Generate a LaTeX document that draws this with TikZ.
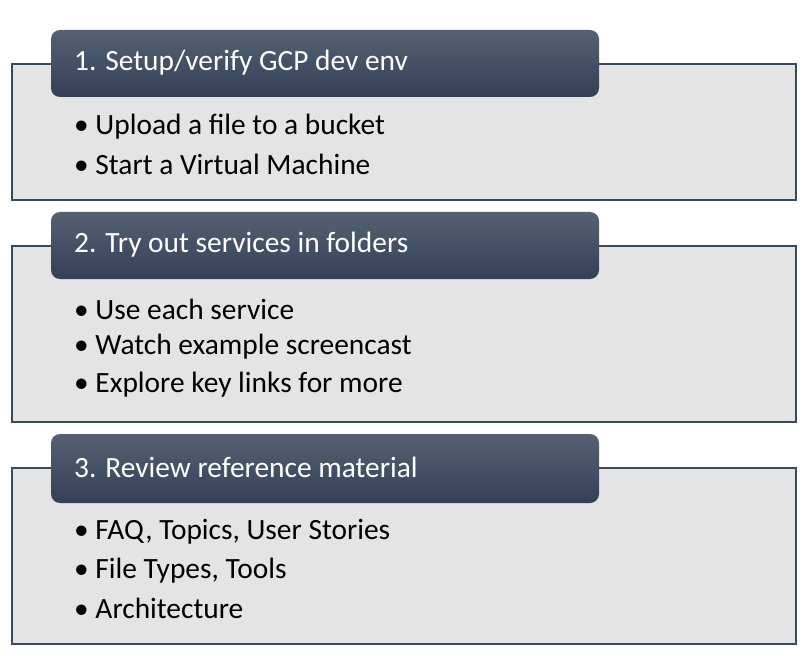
\documentclass[tikz,border=0pt]{standalone}
\usepackage{fontspec}
\setmainfont{Carlito}
\begin{document}
\begin{tikzpicture}[x=1pt,y=-1pt,
  panel/.style={draw=panelline,line width=2pt,fill=panelfill},
  header/.style={rounded corners=9pt,top color=hdtop,bottom color=hdbot,draw=none},
  htext/.style={anchor=west,text=white,font=\fontsize{29.4}{34}\selectfont,inner sep=0pt},
  btext/.style={anchor=west,text=black,font=\fontsize{29.4}{34}\selectfont,inner sep=0pt}]
\definecolor{panelline}{HTML}{3A4A5E}
\definecolor{panelfill}{HTML}{E4E4E4}
\definecolor{hdtop}{HTML}{566273}
\definecolor{hdbot}{HTML}{323F57}
\useasboundingbox (0,0) rectangle (812,666);
% panel 1
\draw[panel] (12,64) rectangle (796,200);
\path[header] (51,30) rectangle (599,97);
\node[htext] (h1) at (74,63) {1. Setup/verify GCP dev env};
\node[btext] (b11) at (74,127) {• Upload a file to a bucket};
\node[btext] (b12) at (74,164) {• Start a Virtual Machine};
% panel 2
\draw[panel] (12,246) rectangle (796,422);
\path[header] (51,212) rectangle (599,279);
\node[htext] (h2) at (74,245) {2. Try out services in folders};
\node[btext] (b21) at (74,309) {• Use each service};
\node[btext] (b22) at (74,347) {• Watch example screencast};
\node[btext] (b23) at (74,385) {• Explore key links for more};
% panel 3
\draw[panel] (12,468) rectangle (796,644);
\path[header] (51,434) rectangle (599,503);
\node[htext] (h3) at (74,467) {3. Review reference material};
\node[btext] (b31) at (74,532) {• FAQ, Topics, User Stories};
\node[btext] (b32) at (74,571) {• File Types, Tools};
\node[btext] (b33) at (74,608) {• Architecture};
\end{tikzpicture}
\end{document}
